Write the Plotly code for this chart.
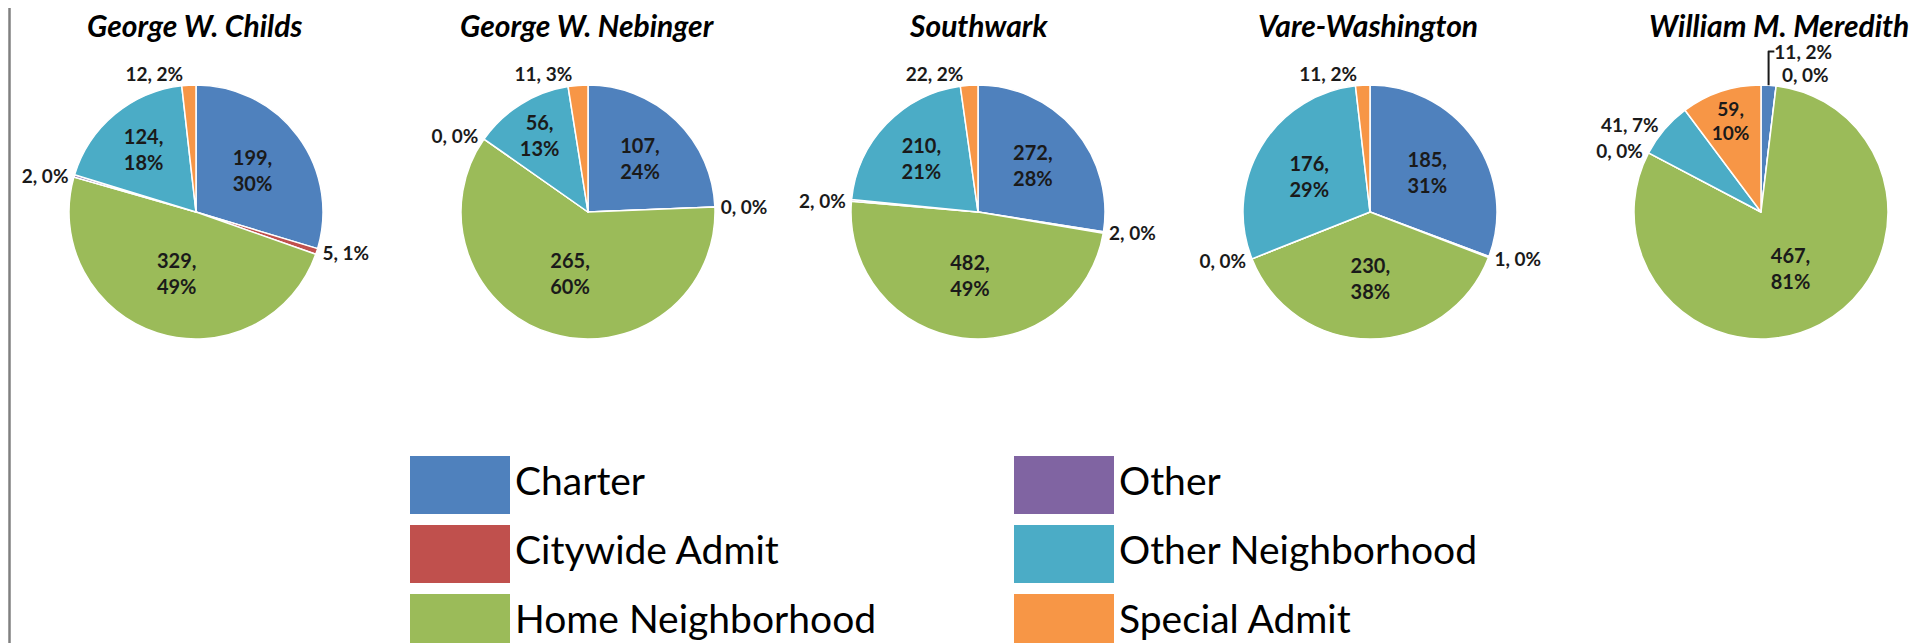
import plotly.graph_objects as go

# ---------------- data ----------------
categories = ["Charter", "Citywide Admit", "Home Neighborhood", "Other",
              "Other Neighborhood", "Special Admit"]
colors = ["#4F81BD", "#C0504D", "#9BBB59", "#8064A2", "#4BACC6", "#F79646"]

schools = ["George W. Childs", "George W. Nebinger", "Southwark",
           "Vare-Washington", "William M. Meredith"]

childs_counts = [199, 5, 329, 2, 124, 12]
childs_pct = [30, 1, 49, 0, 18, 2]
nebinger_counts = [107, 0, 265, 0, 56, 11]
nebinger_pct = [24, 0, 60, 0, 13, 3]
southwark_counts = [272, 2, 482, 2, 210, 22]
southwark_pct = [28, 0, 49, 0, 21, 2]
vare_counts = [185, 1, 230, 0, 176, 11]
vare_pct = [31, 0, 38, 0, 29, 2]
meredith_counts = [11, 0, 467, 0, 41, 59]
meredith_pct = [2, 0, 81, 0, 7, 10]

counts = [childs_counts, nebinger_counts, southwark_counts, vare_counts, meredith_counts]
pcts = [childs_pct, nebinger_pct, southwark_pct, vare_pct, meredith_pct]

# ---------------- layout constants ----------------
W, H = 1923, 643
pie_cx = [188, 580, 970, 1362, 1753]
pie_cy = 204
pie_r = 127
title_x = [187, 579, 970, 1360, 1902]
title_anchor = ["center", "center", "center", "center", "right"]
title_cy = 17

FONT = "Lato, Carlito, Calibri, 'Open Sans', sans-serif"
LABEL_COLOR = "#1a1a1a"

fig = go.Figure()

for k, name in enumerate(schools):
    vals = counts[k]
    pc = pcts[k]
    texts, positions = [], []
    for v, p in zip(vals, pc):
        if p >= 10:
            texts.append(f"{v},<br>{p}%")
            positions.append("inside")
        else:
            texts.append(f"{v}, {p}%")
            positions.append("outside")
    fig.add_trace(go.Pie(
        labels=categories,
        values=vals,
        text=texts,
        textinfo="text",
        textposition=positions,
        insidetextorientation="horizontal",
        sort=False,
        direction="clockwise",
        rotation=0,
        marker=dict(colors=colors, line=dict(color="white", width=1.5)),
        insidetextfont=dict(family=FONT, size=20, color=LABEL_COLOR, weight="bold"),
        outsidetextfont=dict(family=FONT, size=19, color=LABEL_COLOR, weight="bold"),
        domain=dict(x=[(pie_cx[k] - pie_r) / W, (pie_cx[k] + pie_r) / W],
                    y=[1 - (pie_cy + pie_r) / H, 1 - (pie_cy - pie_r) / H]),
        showlegend=False,
        hoverinfo="label+value+percent",
        automargin=False,
    ))
    fig.add_annotation(
        x=title_x[k] / W, y=1 - title_cy / H, xref="paper", yref="paper",
        text=f"<b><i>{name}</i></b>", showarrow=False,
        xanchor=title_anchor[k], yanchor="middle", borderpad=0,
        font=dict(family=FONT, size=30, color="black"),
    )

# ---------------- custom legend (big swatches) ----------------
col_left = [402, 1006]
sw_w = 100
row_top = [448, 517, 586]
sw_h = 58

leg_x = [col_left[i // 3] + sw_w / 2 for i in range(len(categories))]
leg_base = [row_top[i % 3] for i in range(len(categories))]
fig.add_trace(go.Bar(
    x=leg_x, y=[sw_h] * len(categories), base=leg_base, width=sw_w,
    marker=dict(color=colors, line=dict(width=0)),
    showlegend=False, hoverinfo="skip", xaxis="x", yaxis="y",
))
fig.add_trace(go.Scatter(
    x=[col_left[i // 3] + sw_w + 5 for i in range(len(categories))],
    y=[row_top[i % 3] + sw_h / 2 for i in range(len(categories))],
    mode="text", text=categories, textposition="middle right",
    textfont=dict(family=FONT, size=39, color="black"),
    showlegend=False, hoverinfo="skip", xaxis="x", yaxis="y",
))

fig.update_layout(
    width=W, height=H,
    margin=dict(l=0, r=0, t=0, b=0),
    paper_bgcolor="white", plot_bgcolor="white",
    xaxis=dict(domain=[0, 1], range=[0, W], visible=False, fixedrange=True),
    yaxis=dict(domain=[0, 1], range=[H, 0], visible=False, fixedrange=True),
    shapes=[
        dict(type="line", xref="paper", yref="paper", x0=1.5 / W, x1=1.5 / W, y0=0, y1=1,
             line=dict(color="#808080", width=2.5), layer="above"),
        dict(type="line", xref="paper", yref="paper", x0=1916 / W, x1=1916 / W, y0=0, y1=1,
             line=dict(color="#111111", width=2.5), layer="above"),
    ],
    bargap=0,
)

fig.write_html("out.html")
